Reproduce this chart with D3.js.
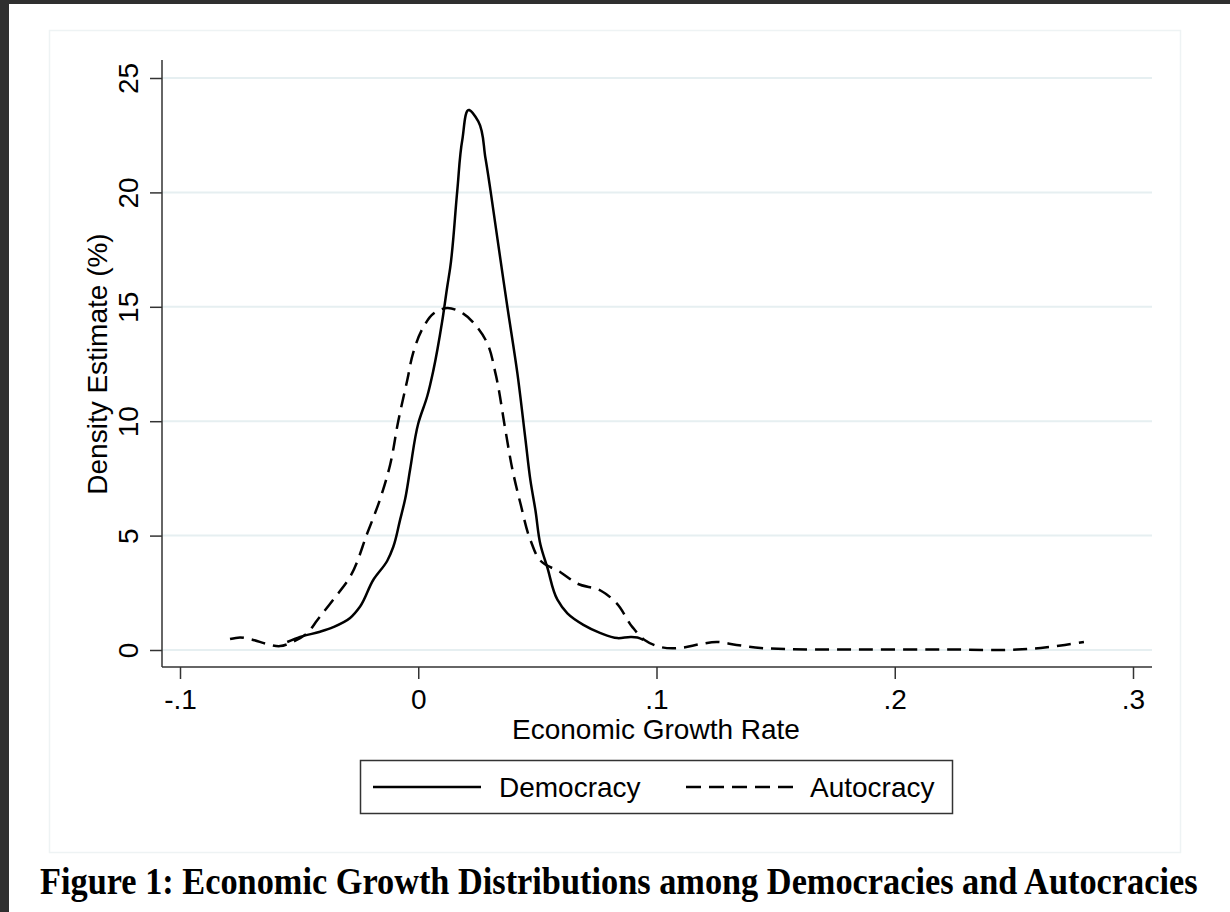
<!DOCTYPE html>
<html>
<head>
<meta charset="utf-8">
<script src="https://cdn.jsdelivr.net/npm/d3@7"></script>
<style>
  body { margin: 0; background: #fff; }
  svg { display: block; }
</style>
</head>
<body>
<svg id="chart" width="1230" height="912"></svg>
<script>
// growth rate (x) and density estimate in % (y)
var democracyGrowth = [-0.0550, -0.0496, -0.0412, -0.0357, -0.0286, -0.0244, -0.0189, -0.0130, -0.0105, -0.0076,
  -0.0055, -0.0034, 0.0000, 0.0038, 0.0063, 0.0101, 0.0122, 0.0134, 0.0164, 0.0185,
  0.0214, 0.0252, 0.0282, 0.0303, 0.0332, 0.0374, 0.0416, 0.0450, 0.0471, 0.0492,
  0.0513, 0.0542, 0.0584, 0.0626, 0.0693, 0.0765, 0.0836, 0.0891, 0.0920, 0.0945];
var democracyDensity = [0.35, 0.57, 0.8, 1.0, 1.4, 1.9, 3.06, 3.9, 4.5, 5.7,
  6.6, 7.9, 9.9, 11.1, 12.2, 14.4, 15.9, 16.7, 20.1, 22.3,
  23.6, 23.1, 21.5, 20.1, 18.0, 15.0, 12.1, 9.2, 7.4, 6.1,
  4.6, 3.6, 2.2, 1.6, 1.1, 0.74, 0.52, 0.57, 0.55, 0.44];

var autocracyGrowth = [-0.0790, -0.0748, -0.0693, -0.0634, -0.0580, -0.0538, -0.0466, -0.0424, -0.0357, -0.0286,
  -0.0214, -0.0160, -0.0118, -0.0084, -0.0046, -0.0021, 0.0021, 0.0063, 0.0122, 0.0189,
  0.0248, 0.0290, 0.0324, 0.0366, 0.0395, 0.0429, 0.0471, 0.0513, 0.0597, 0.0668,
  0.0765, 0.0832, 0.0899, 0.0950, 0.1017, 0.1101, 0.1185, 0.1252, 0.1336, 0.1437,
  0.1538, 0.1815, 0.2235, 0.2513, 0.2613, 0.2714, 0.2794];
var autocracyDensity = [0.48, 0.55, 0.44, 0.26, 0.17, 0.3, 0.74, 1.3, 2.2, 3.2,
  5.1, 6.6, 8.1, 10.0, 11.8, 13.0, 14.1, 14.7, 14.95, 14.7,
  14.1, 13.4, 12.1, 9.6, 7.9, 6.4, 4.8, 3.9, 3.4, 2.9,
  2.6, 2.05, 1.0, 0.44, 0.13, 0.09, 0.26, 0.35, 0.22, 0.09,
  0.04, 0.02, 0.02, 0.02, 0.09, 0.22, 0.35];

var xTicks = [-0.1, 0, 0.1, 0.2, 0.3];
var xTickLabels = ["-.1", "0", ".1", ".2", ".3"];
var yTicks = [0, 5, 10, 15, 20, 25];
var yTickLabels = ["0", "5", "10", "15", "20", "25"];

var seriesNames = ["Democracy", "Autocracy"];
var xTitle = "Economic Growth Rate";
var yTitle = "Density Estimate (%)";
var figTitle = "Figure 1: Economic Growth Distributions among Democracies and Autocracies";

var svg = d3.select("#chart");
var sans = "'Liberation Sans', Arial, sans-serif";

// page chrome: dark viewer border + faint graph frame
svg.append("rect").attr("x", 0).attr("y", 0).attr("width", 1230).attr("height", 912).attr("fill", "#2f2f2f");
svg.append("rect").attr("x", 9).attr("y", 4).attr("width", 1221).attr("height", 908).attr("fill", "#fff");
svg.append("rect").attr("x", 49.5).attr("y", 30.5).attr("width", 1131).attr("height", 822)
  .attr("fill", "none").attr("stroke", "#eef3f4").attr("stroke-width", 1.5);

var x = d3.scaleLinear().domain([-0.1, 0.3]).range([180, 1133]);
var y = d3.scaleLinear().domain([0, 25]).range([650, 78]);

var plotLeft = 162, plotRight = 1152, plotBottom = 667, plotTop = 60;

// gridlines
svg.append("g").selectAll("line").data(yTicks).join("line")
  .attr("x1", plotLeft).attr("x2", plotRight)
  .attr("y1", d => y(d)).attr("y2", d => y(d))
  .attr("stroke", "#e6eff1").attr("stroke-width", 2);

// x axis
var xAxis = svg.append("g")
  .attr("transform", "translate(0," + plotBottom + ")")
  .call(d3.axisBottom(x).tickValues(xTicks).tickSize(12).tickPadding(10)
    .tickFormat((d, i) => xTickLabels[i]));
xAxis.select(".domain").remove();
xAxis.selectAll(".tick line").attr("stroke", "#333").attr("stroke-width", 1.5);
xAxis.selectAll(".tick text").attr("font-family", sans).attr("font-size", 28).attr("fill", "#000")
  .attr("dy", "0.71em");
svg.append("line").attr("x1", plotLeft).attr("x2", plotRight).attr("y1", plotBottom).attr("y2", plotBottom)
  .attr("stroke", "#333").attr("stroke-width", 1.5);

// y axis
var yAxis = svg.append("g")
  .attr("transform", "translate(" + plotLeft + ",0)")
  .call(d3.axisLeft(y).tickValues(yTicks).tickSize(12).tickFormat((d, i) => yTickLabels[i]));
yAxis.select(".domain").remove();
yAxis.selectAll(".tick line").attr("stroke", "#333").attr("stroke-width", 1.5);
yAxis.selectAll(".tick text")
  .attr("x", null).attr("dy", null)
  .attr("text-anchor", "middle")
  .attr("transform", "translate(-24,0) rotate(-90)")
  .attr("font-family", sans).attr("font-size", 28).attr("fill", "#000");
svg.append("line").attr("x1", plotLeft).attr("x2", plotLeft).attr("y1", plotTop).attr("y2", plotBottom)
  .attr("stroke", "#333").attr("stroke-width", 1.5);

// axis titles
svg.append("text")
  .attr("x", (plotLeft + plotRight) / 2 - 1).attr("y", 739)
  .attr("text-anchor", "middle").attr("font-family", sans).attr("font-size", 28)
  .text(xTitle);
svg.append("text")
  .attr("transform", "translate(107," + (y(0) + y(25)) / 2 + ") rotate(-90)")
  .attr("text-anchor", "middle").attr("font-family", sans).attr("font-size", 28)
  .text(yTitle);

// density curves
var line = d3.line()
  .x(d => x(d[0]))
  .y(d => y(d[1]))
  .curve(d3.curveCatmullRom.alpha(0.9));

var democracy = d3.zip(democracyGrowth, democracyDensity);
var autocracy = d3.zip(autocracyGrowth, autocracyDensity);

svg.append("path").datum(autocracy)
  .attr("d", line).attr("fill", "none").attr("stroke", "#000")
  .attr("stroke-width", 2.5).attr("stroke-dasharray", "14,8");
svg.append("path").datum(democracy)
  .attr("d", line).attr("fill", "none").attr("stroke", "#000")
  .attr("stroke-width", 2.5);

// legend
var legend = svg.append("g");
legend.append("rect").attr("x", 360.5).attr("y", 760.5).attr("width", 592).attr("height", 53)
  .attr("fill", "#fff").attr("stroke", "#333").attr("stroke-width", 1.5);
legend.append("line").attr("x1", 373).attr("x2", 481).attr("y1", 787).attr("y2", 787)
  .attr("stroke", "#000").attr("stroke-width", 2.4);
legend.append("text").attr("x", 499).attr("y", 797)
  .attr("font-family", sans).attr("font-size", 28).text(seriesNames[0]);
legend.append("line").attr("x1", 686).attr("x2", 794).attr("y1", 787).attr("y2", 787)
  .attr("stroke", "#000").attr("stroke-width", 2.4).attr("stroke-dasharray", "15,8");
legend.append("text").attr("x", 810).attr("y", 797)
  .attr("font-family", sans).attr("font-size", 28).text(seriesNames[1]);

// figure caption, squeezed horizontally like the PDF render
var caption = svg.append("text")
  .attr("x", 0).attr("y", 0)
  .attr("font-family", "'Liberation Serif', 'Times New Roman', serif")
  .attr("font-weight", "bold").attr("font-size", 37)
  .text(figTitle);
var natural = caption.node().getComputedTextLength();
caption.attr("transform", "translate(40,894) scale(" + (1158 / natural) + ",1)");
</script>
</body>
</html>
